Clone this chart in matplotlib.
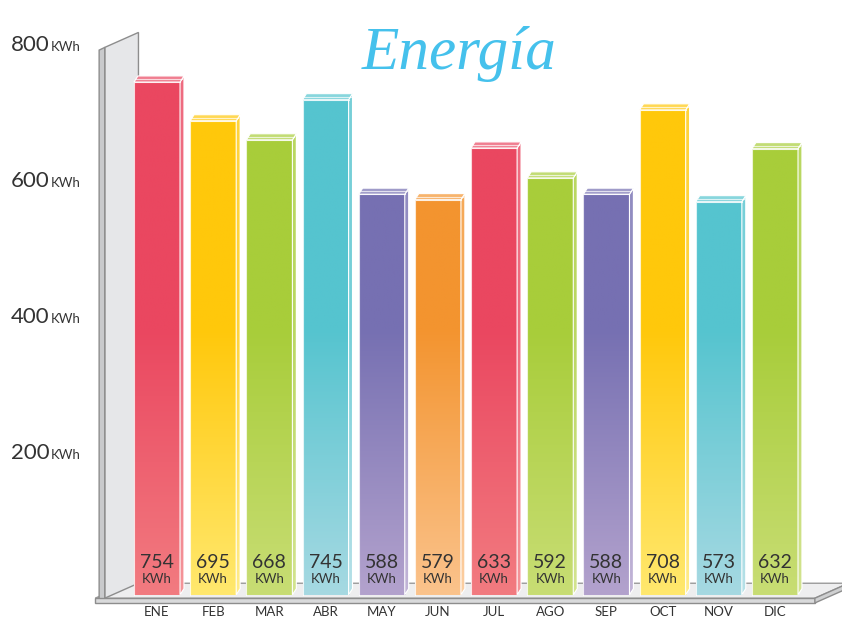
import numpy as np
import matplotlib
matplotlib.use("Agg")
import matplotlib.pyplot as plt
from matplotlib.colors import to_rgb
from matplotlib.patches import Polygon

# Data
meses = ['ENE', 'FEB', 'MAR', 'ABR', 'MAY', 'JUN', 'JUL', 'AGO', 'SEP', 'OCT', 'NOV', 'DIC']
valores = [754, 695, 668, 745, 588, 579, 633, 592, 588, 708, 573, 632]
# bar heights as drawn in the picture (kWh scale of the axis)
alturas = [744, 687, 659, 718, 579, 571, 647, 603, 579, 703, 568, 646]
y_ticks = [200, 400, 600, 800]

# top colour / light bottom colour of each bar
rojo = ('#ea4760', '#f27b80')
amarillo = ('#ffc80b', '#ffe86e')
verde = ('#a8cd3a', '#c8dd74')
turquesa = ('#55c4cf', '#a6d9e2')
morado = ('#7670b2', '#b3a2cd')
naranja = ('#f3942f', '#fbc38c')
colores = [rojo, amarillo, verde, turquesa, morado, naranja,
           rojo, verde, morado, amarillo, turquesa, verde]

texto = '#333333'
ancho = 0.82      # bar width
base = -10        # bars start a little below zero
ddx, ddy = 0.07, 9     # bar depth
fdx, fdy = 0.6, 22     # floor / wall depth


def mezcla(c1, c2, t):
    a, b = np.array(to_rgb(c1)), np.array(to_rgb(c2))
    return a * (1 - t) + b * t


def gradiente(top, bottom, y0, y1, n=200):
    ys = np.linspace(y0, y1, n)
    t = np.clip((380 - ys) / 390, 0, 1)[:, None]
    a, b = np.array(to_rgb(top)), np.array(to_rgb(bottom))
    return (a * (1 - t) + b * t)[:, None, :]


fig = plt.figure(figsize=(8.42, 6.19), dpi=100)
ax = fig.add_axes([0, 0, 1, 1])
ax.axis('off')

# back wall (left panel)
wx0, wx1 = -1.03, -0.93
wall = Polygon([(wx1, -15), (wx1, 795), (wx1 + fdx, 795 + fdy), (wx1 + fdx, -15 + fdy)],
               closed=True, fc='#e6e7e9', ec='#8d8d8d', lw=1, zorder=1)
ax.add_patch(wall)
ax.add_patch(Polygon([(wx0, -18), (wx0, 791), (wx1, 795), (wx1, -18)],
                     closed=True, fc='#c9cacc', ec='#8d8d8d', lw=1, zorder=1.5))

# floor
fx0, fx1 = -1.1, 11.71
ax.add_patch(Polygon([(fx0, -15), (fx1, -15), (fx1 + fdx, -15 + fdy), (fx0 + fdx, -15 + fdy)],
                     closed=True, fc='#eeeeef', ec='#9a9a9a', lw=1, zorder=0.5))
ax.add_patch(Polygon([(fx0, -22), (fx1, -22), (fx1, -15), (fx0, -15)],
                     closed=True, fc='#d9dadb', ec='#8d8d8d', lw=1, zorder=3))
ax.add_patch(Polygon([(fx1, -22), (fx1 + fdx, -22 + fdy), (fx1 + fdx, -15 + fdy), (fx1, -15)],
                     closed=True, fc='#cfd0d1', ec='#8d8d8d', lw=1, zorder=3))

# bars
for i, (h, (c_top, c_bot)) in enumerate(zip(alturas, colores)):
    x0, x1 = i - ancho / 2, i + ancho / 2
    img = gradiente(c_top, c_bot, base, h)
    ax.imshow(img, extent=[x0, x1, base, h], origin='lower', aspect='auto',
              interpolation='bilinear', zorder=4)
    # side face
    side = Polygon([(x1, base), (x1 + ddx, base + ddy), (x1 + ddx, h + ddy), (x1, h)],
                   closed=True, fc='none', ec='none', zorder=4)
    ax.add_patch(side)
    im = ax.imshow(np.clip(img * 0.8 + 0.2, 0, 1), extent=[x1, x1 + ddx, base, h + ddy],
                   origin='lower', aspect='auto', interpolation='bilinear', zorder=4)
    im.set_clip_path(side)
    ax.add_patch(Polygon([(x1, base), (x1 + ddx, base + ddy), (x1 + ddx, h + ddy), (x1, h)],
                         closed=True, fc='none', ec='white', lw=0.8, zorder=5))
    # top face
    ax.add_patch(Polygon([(x0, h), (x1, h), (x1 + ddx, h + ddy), (x0 + ddx, h + ddy)],
                         closed=True, fc=mezcla(c_top, 'white', 0.3), ec='white', lw=0.8, zorder=5))
    ax.plot([x0 + ddx / 2, x1 + ddx / 2], [h + ddy / 2] * 2, color='white', lw=0.8, alpha=0.7, zorder=5)
    # front outline
    ax.plot([x0, x0, x1], [base, h, h], color='white', lw=0.8, alpha=0.8, zorder=5)

    ax.text(i, 38, str(valores[i]), ha='center', va='center', fontsize=14,
            family='Lato', color=texto, zorder=6)
    ax.text(i, 13, 'KWh', ha='center', va='center', fontsize=9.5,
            family='Lato', color=texto, zorder=6)
    ax.text(i, -36, meses[i], ha='center', va='center', fontsize=9.5,
            family='Lato', color=texto, zorder=6)

# y labels
for v in y_ticks:
    ax.text(-1.92, v - 11, str(v), ha='right', va='baseline', fontsize=16,
            family='Lato', color=texto)
    ax.text(-1.89, v - 11, 'KWh', ha='left', va='baseline', fontsize=9.5,
            family='Lato', color=texto)

# title
ax.text(5.38, 786, 'Energía', ha='center', va='center', fontsize=44,
        family='Liberation Serif', style='italic', color='#45c1ec')

ax.set_xlim(-157 / 56.18, (842 - 157) / 56.18)
ax.set_ylim((588 - 619) / 0.68, 588 / 0.68)

fig.savefig('out.png', dpi=100)
